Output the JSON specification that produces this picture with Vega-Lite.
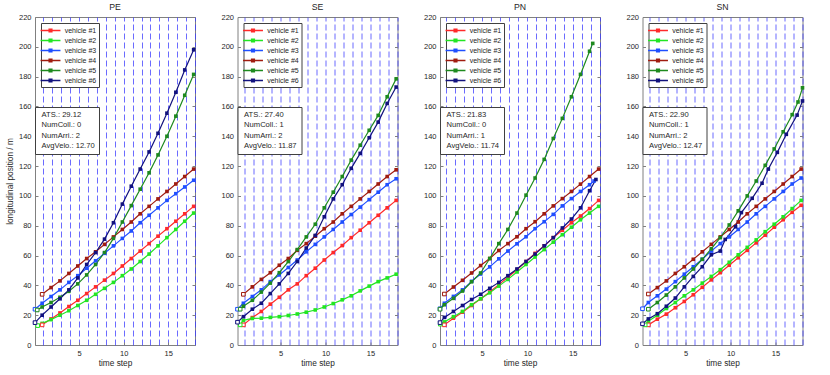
{
  "$schema": "https://vega.github.io/schema/vega-lite/v6.json",
  "padding": {"left": 4, "top": 2, "right": 5, "bottom": 4},
  "background": "white",
  "config": {
    "font": "Liberation Sans",
    "view": {"stroke": "#808080", "strokeWidth": 1},
    "axis": {"labelFont": "Liberation Sans", "labelFontSize": 7.5, "labelColor": "#262626", "titleFont": "Liberation Sans", "titleFontSize": 8.3, "titleFontWeight": "normal", "titleColor": "#262626", "tickColor": "#808080", "domain": false, "grid": false},
    "title": {"font": "Liberation Sans", "fontSize": 8.7, "fontWeight": "normal", "color": "#262626", "offset": 1},
    "legend": {"labelFont": "Liberation Sans", "titleFont": "Liberation Sans"}
  },
  "datasets": {
    "stats": [
      {"p":"PE","s":"ATS.: 29.12"},{"p":"PE","s":"NumColl.: 0"},{"p":"PE","s":"NumArri.: 2"},{"p":"PE","s":"AvgVelo.: 12.70"},
      {"p":"SE","s":"ATS.: 27.40"},{"p":"SE","s":"NumColl.: 1"},{"p":"SE","s":"NumArri.: 2"},{"p":"SE","s":"AvgVelo.: 11.87"},
      {"p":"PN","s":"ATS.: 21.83"},{"p":"PN","s":"NumColl.: 0"},{"p":"PN","s":"NumArri.: 1"},{"p":"PN","s":"AvgVelo.: 11.74"},
      {"p":"SN","s":"ATS.: 22.90"},{"p":"SN","s":"NumColl.: 1"},{"p":"SN","s":"NumArri.: 2"},{"p":"SN","s":"AvgVelo.: 12.47"}
    ],
    "veh": [
      {"p":"PE","v":1,"t":0.85,"y":13.5},{"p":"PE","v":1,"t":1.85,"y":17.5},{"p":"PE","v":1,"t":2.85,"y":21.5},{"p":"PE","v":1,"t":3.85,"y":25.8},{"p":"PE","v":1,"t":4.85,"y":30},{"p":"PE","v":1,"t":5.85,"y":34.5},{"p":"PE","v":1,"t":6.85,"y":39},{"p":"PE","v":1,"t":7.85,"y":43.5},{"p":"PE","v":1,"t":8.85,"y":48},{"p":"PE","v":1,"t":9.85,"y":53},{"p":"PE","v":1,"t":10.85,"y":58},{"p":"PE","v":1,"t":11.85,"y":63},{"p":"PE","v":1,"t":12.85,"y":68},{"p":"PE","v":1,"t":13.85,"y":73},{"p":"PE","v":1,"t":14.85,"y":78},{"p":"PE","v":1,"t":15.85,"y":83},{"p":"PE","v":1,"t":16.85,"y":88},{"p":"PE","v":1,"t":17.85,"y":93},
      {"p":"PE","v":2,"t":0.35,"y":13},{"p":"PE","v":2,"t":0.85,"y":14.5},{"p":"PE","v":2,"t":1.85,"y":17},{"p":"PE","v":2,"t":2.85,"y":20},{"p":"PE","v":2,"t":3.85,"y":23},{"p":"PE","v":2,"t":4.85,"y":26.5},{"p":"PE","v":2,"t":5.85,"y":30},{"p":"PE","v":2,"t":6.85,"y":34},{"p":"PE","v":2,"t":7.85,"y":38},{"p":"PE","v":2,"t":8.85,"y":42},{"p":"PE","v":2,"t":9.85,"y":46.5},{"p":"PE","v":2,"t":10.85,"y":51},{"p":"PE","v":2,"t":11.85,"y":56},{"p":"PE","v":2,"t":12.85,"y":61},{"p":"PE","v":2,"t":13.85,"y":66.5},{"p":"PE","v":2,"t":14.85,"y":72},{"p":"PE","v":2,"t":15.85,"y":77.5},{"p":"PE","v":2,"t":16.85,"y":83},{"p":"PE","v":2,"t":17.85,"y":88.5},
      {"p":"PE","v":3,"t":0.05,"y":24},{"p":"PE","v":3,"t":0.85,"y":28},{"p":"PE","v":3,"t":1.85,"y":32.5},{"p":"PE","v":3,"t":2.85,"y":37},{"p":"PE","v":3,"t":3.85,"y":42},{"p":"PE","v":3,"t":4.85,"y":46.5},{"p":"PE","v":3,"t":5.85,"y":51.5},{"p":"PE","v":3,"t":6.85,"y":56.5},{"p":"PE","v":3,"t":7.85,"y":61.5},{"p":"PE","v":3,"t":8.85,"y":66.5},{"p":"PE","v":3,"t":9.85,"y":71.5},{"p":"PE","v":3,"t":10.85,"y":76.5},{"p":"PE","v":3,"t":11.85,"y":82},{"p":"PE","v":3,"t":12.85,"y":87},{"p":"PE","v":3,"t":13.85,"y":92},{"p":"PE","v":3,"t":14.85,"y":97},{"p":"PE","v":3,"t":15.85,"y":101.5},{"p":"PE","v":3,"t":16.85,"y":106},{"p":"PE","v":3,"t":17.85,"y":110.5},
      {"p":"PE","v":4,"t":0.85,"y":34},{"p":"PE","v":4,"t":1.85,"y":38.5},{"p":"PE","v":4,"t":2.85,"y":43},{"p":"PE","v":4,"t":3.85,"y":48},{"p":"PE","v":4,"t":4.85,"y":53},{"p":"PE","v":4,"t":5.85,"y":58},{"p":"PE","v":4,"t":6.85,"y":62.5},{"p":"PE","v":4,"t":7.85,"y":67.5},{"p":"PE","v":4,"t":8.85,"y":72.5},{"p":"PE","v":4,"t":9.85,"y":77.5},{"p":"PE","v":4,"t":10.85,"y":82.5},{"p":"PE","v":4,"t":11.85,"y":88},{"p":"PE","v":4,"t":12.85,"y":93},{"p":"PE","v":4,"t":13.85,"y":98},{"p":"PE","v":4,"t":14.85,"y":103},{"p":"PE","v":4,"t":15.85,"y":108},{"p":"PE","v":4,"t":16.85,"y":113},{"p":"PE","v":4,"t":17.85,"y":118},
      {"p":"PE","v":5,"t":0.3,"y":23.5},{"p":"PE","v":5,"t":0.85,"y":25.5},{"p":"PE","v":5,"t":1.85,"y":28.5},{"p":"PE","v":5,"t":2.85,"y":32},{"p":"PE","v":5,"t":3.85,"y":36},{"p":"PE","v":5,"t":4.85,"y":41},{"p":"PE","v":5,"t":5.85,"y":47},{"p":"PE","v":5,"t":6.85,"y":54},{"p":"PE","v":5,"t":7.85,"y":62},{"p":"PE","v":5,"t":8.85,"y":71.5},{"p":"PE","v":5,"t":9.85,"y":82.5},{"p":"PE","v":5,"t":10.85,"y":93.5},{"p":"PE","v":5,"t":11.85,"y":104.5},{"p":"PE","v":5,"t":12.85,"y":115.5},{"p":"PE","v":5,"t":13.85,"y":127.5},{"p":"PE","v":5,"t":14.85,"y":140},{"p":"PE","v":5,"t":15.85,"y":153.5},{"p":"PE","v":5,"t":16.85,"y":167.5},{"p":"PE","v":5,"t":17.85,"y":181.5},
      {"p":"PE","v":6,"t":0.05,"y":15},{"p":"PE","v":6,"t":0.85,"y":20},{"p":"PE","v":6,"t":1.85,"y":25.5},{"p":"PE","v":6,"t":2.85,"y":31},{"p":"PE","v":6,"t":3.85,"y":37},{"p":"PE","v":6,"t":4.85,"y":45},{"p":"PE","v":6,"t":5.85,"y":54},{"p":"PE","v":6,"t":6.85,"y":62},{"p":"PE","v":6,"t":7.85,"y":71},{"p":"PE","v":6,"t":8.85,"y":82},{"p":"PE","v":6,"t":9.85,"y":94.5},{"p":"PE","v":6,"t":10.85,"y":106.5},{"p":"PE","v":6,"t":11.85,"y":118},{"p":"PE","v":6,"t":12.85,"y":129.5},{"p":"PE","v":6,"t":13.85,"y":142},{"p":"PE","v":6,"t":14.85,"y":155.5},{"p":"PE","v":6,"t":15.85,"y":169.5},{"p":"PE","v":6,"t":16.85,"y":184.5},{"p":"PE","v":6,"t":17.85,"y":198},

      {"p":"SE","v":1,"t":0.85,"y":13.5},{"p":"SE","v":1,"t":1.85,"y":18.4},{"p":"SE","v":1,"t":2.85,"y":22.5},{"p":"SE","v":1,"t":3.85,"y":27.4},{"p":"SE","v":1,"t":4.85,"y":32},{"p":"SE","v":1,"t":5.85,"y":37},{"p":"SE","v":1,"t":6.85,"y":41},{"p":"SE","v":1,"t":7.85,"y":46.5},{"p":"SE","v":1,"t":8.85,"y":51.5},{"p":"SE","v":1,"t":9.85,"y":57},{"p":"SE","v":1,"t":10.85,"y":62},{"p":"SE","v":1,"t":11.85,"y":66.7},{"p":"SE","v":1,"t":12.85,"y":72},{"p":"SE","v":1,"t":13.85,"y":77},{"p":"SE","v":1,"t":14.85,"y":82},{"p":"SE","v":1,"t":15.85,"y":87},{"p":"SE","v":1,"t":16.85,"y":92},{"p":"SE","v":1,"t":17.85,"y":97},
      {"p":"SE","v":2,"t":0.5,"y":13.5},{"p":"SE","v":2,"t":0.85,"y":16.5},{"p":"SE","v":2,"t":1.85,"y":17.8},{"p":"SE","v":2,"t":2.85,"y":18},{"p":"SE","v":2,"t":3.85,"y":18.5},{"p":"SE","v":2,"t":4.85,"y":19},{"p":"SE","v":2,"t":5.85,"y":19.8},{"p":"SE","v":2,"t":6.85,"y":20.8},{"p":"SE","v":2,"t":7.85,"y":22},{"p":"SE","v":2,"t":8.85,"y":23.5},{"p":"SE","v":2,"t":9.85,"y":25.5},{"p":"SE","v":2,"t":10.85,"y":27.8},{"p":"SE","v":2,"t":11.85,"y":30.3},{"p":"SE","v":2,"t":12.85,"y":33},{"p":"SE","v":2,"t":13.85,"y":36.3},{"p":"SE","v":2,"t":14.85,"y":39.5},{"p":"SE","v":2,"t":15.85,"y":42.5},{"p":"SE","v":2,"t":16.85,"y":45},{"p":"SE","v":2,"t":17.85,"y":47.5},
      {"p":"SE","v":3,"t":0.2,"y":24},{"p":"SE","v":3,"t":0.85,"y":28},{"p":"SE","v":3,"t":1.85,"y":32.5},{"p":"SE","v":3,"t":2.85,"y":37},{"p":"SE","v":3,"t":3.85,"y":42.5},{"p":"SE","v":3,"t":4.85,"y":47},{"p":"SE","v":3,"t":5.85,"y":52},{"p":"SE","v":3,"t":6.85,"y":57},{"p":"SE","v":3,"t":7.85,"y":62.5},{"p":"SE","v":3,"t":8.85,"y":67.5},{"p":"SE","v":3,"t":9.85,"y":72.5},{"p":"SE","v":3,"t":10.85,"y":77.5},{"p":"SE","v":3,"t":11.85,"y":82.5},{"p":"SE","v":3,"t":12.85,"y":87.5},{"p":"SE","v":3,"t":13.85,"y":92.5},{"p":"SE","v":3,"t":14.85,"y":97.5},{"p":"SE","v":3,"t":15.85,"y":102.5},{"p":"SE","v":3,"t":16.85,"y":107.5},{"p":"SE","v":3,"t":17.85,"y":111.5},
      {"p":"SE","v":4,"t":0.85,"y":34},{"p":"SE","v":4,"t":1.85,"y":39},{"p":"SE","v":4,"t":2.85,"y":44},{"p":"SE","v":4,"t":3.85,"y":48.5},{"p":"SE","v":4,"t":4.85,"y":53.5},{"p":"SE","v":4,"t":5.85,"y":58},{"p":"SE","v":4,"t":6.85,"y":63.5},{"p":"SE","v":4,"t":7.85,"y":68},{"p":"SE","v":4,"t":8.85,"y":73},{"p":"SE","v":4,"t":9.85,"y":78},{"p":"SE","v":4,"t":10.85,"y":82.5},{"p":"SE","v":4,"t":11.85,"y":88},{"p":"SE","v":4,"t":12.85,"y":93},{"p":"SE","v":4,"t":13.85,"y":98},{"p":"SE","v":4,"t":14.85,"y":103},{"p":"SE","v":4,"t":15.85,"y":108},{"p":"SE","v":4,"t":16.85,"y":113},{"p":"SE","v":4,"t":17.85,"y":117.5},
      {"p":"SE","v":5,"t":0.5,"y":24},{"p":"SE","v":5,"t":0.85,"y":26},{"p":"SE","v":5,"t":1.85,"y":30},{"p":"SE","v":5,"t":2.85,"y":35.5},{"p":"SE","v":5,"t":3.85,"y":41.5},{"p":"SE","v":5,"t":4.85,"y":48.5},{"p":"SE","v":5,"t":5.85,"y":56},{"p":"SE","v":5,"t":6.85,"y":64},{"p":"SE","v":5,"t":7.85,"y":72.5},{"p":"SE","v":5,"t":8.85,"y":81},{"p":"SE","v":5,"t":9.85,"y":92},{"p":"SE","v":5,"t":10.85,"y":102.5},{"p":"SE","v":5,"t":11.85,"y":113},{"p":"SE","v":5,"t":12.85,"y":124},{"p":"SE","v":5,"t":13.85,"y":134},{"p":"SE","v":5,"t":14.85,"y":144},{"p":"SE","v":5,"t":15.85,"y":154},{"p":"SE","v":5,"t":16.85,"y":166.5},{"p":"SE","v":5,"t":17.85,"y":178.5},
      {"p":"SE","v":6,"t":0.2,"y":15.3},{"p":"SE","v":6,"t":0.85,"y":19},{"p":"SE","v":6,"t":1.85,"y":24},{"p":"SE","v":6,"t":2.85,"y":28},{"p":"SE","v":6,"t":3.85,"y":34.5},{"p":"SE","v":6,"t":4.85,"y":41},{"p":"SE","v":6,"t":5.85,"y":48},{"p":"SE","v":6,"t":6.85,"y":56},{"p":"SE","v":6,"t":7.85,"y":65},{"p":"SE","v":6,"t":8.85,"y":73.5},{"p":"SE","v":6,"t":9.85,"y":86},{"p":"SE","v":6,"t":10.85,"y":98},{"p":"SE","v":6,"t":11.85,"y":107.5},{"p":"SE","v":6,"t":12.85,"y":118.5},{"p":"SE","v":6,"t":13.85,"y":128.5},{"p":"SE","v":6,"t":14.85,"y":139},{"p":"SE","v":6,"t":15.85,"y":149.5},{"p":"SE","v":6,"t":16.85,"y":162},{"p":"SE","v":6,"t":17.85,"y":173},

      {"p":"PN","v":1,"t":0.85,"y":13.5},{"p":"PN","v":1,"t":1.85,"y":18},{"p":"PN","v":1,"t":2.85,"y":22},{"p":"PN","v":1,"t":3.85,"y":26.5},{"p":"PN","v":1,"t":4.85,"y":31},{"p":"PN","v":1,"t":5.85,"y":35.5},{"p":"PN","v":1,"t":6.85,"y":40.5},{"p":"PN","v":1,"t":7.85,"y":45.5},{"p":"PN","v":1,"t":8.85,"y":50.5},{"p":"PN","v":1,"t":9.85,"y":56},{"p":"PN","v":1,"t":10.85,"y":61.5},{"p":"PN","v":1,"t":11.85,"y":66.5},{"p":"PN","v":1,"t":12.85,"y":72},{"p":"PN","v":1,"t":13.85,"y":77},{"p":"PN","v":1,"t":14.85,"y":82},{"p":"PN","v":1,"t":15.85,"y":86.5},{"p":"PN","v":1,"t":16.85,"y":91.5},{"p":"PN","v":1,"t":17.85,"y":97},
      {"p":"PN","v":2,"t":0.4,"y":14},{"p":"PN","v":2,"t":0.85,"y":15.5},{"p":"PN","v":2,"t":1.85,"y":19},{"p":"PN","v":2,"t":2.85,"y":22.5},{"p":"PN","v":2,"t":3.85,"y":27},{"p":"PN","v":2,"t":4.85,"y":31},{"p":"PN","v":2,"t":5.85,"y":35},{"p":"PN","v":2,"t":6.85,"y":39.5},{"p":"PN","v":2,"t":7.85,"y":44},{"p":"PN","v":2,"t":8.85,"y":49},{"p":"PN","v":2,"t":9.85,"y":54},{"p":"PN","v":2,"t":10.85,"y":59},{"p":"PN","v":2,"t":11.85,"y":64},{"p":"PN","v":2,"t":12.85,"y":69},{"p":"PN","v":2,"t":13.85,"y":74},{"p":"PN","v":2,"t":14.85,"y":79},{"p":"PN","v":2,"t":15.85,"y":84},{"p":"PN","v":2,"t":16.85,"y":88.5},{"p":"PN","v":2,"t":17.85,"y":93},
      {"p":"PN","v":3,"t":0.37,"y":24.3},{"p":"PN","v":3,"t":0.85,"y":28},{"p":"PN","v":3,"t":1.85,"y":32.6},{"p":"PN","v":3,"t":2.85,"y":37},{"p":"PN","v":3,"t":3.85,"y":42.7},{"p":"PN","v":3,"t":4.85,"y":47.6},{"p":"PN","v":3,"t":5.85,"y":52.4},{"p":"PN","v":3,"t":6.85,"y":57.8},{"p":"PN","v":3,"t":7.85,"y":63},{"p":"PN","v":3,"t":8.85,"y":67.9},{"p":"PN","v":3,"t":9.85,"y":72.6},{"p":"PN","v":3,"t":10.85,"y":78},{"p":"PN","v":3,"t":11.85,"y":82.7},{"p":"PN","v":3,"t":12.85,"y":87.6},{"p":"PN","v":3,"t":13.85,"y":93.3},{"p":"PN","v":3,"t":14.85,"y":98.2},{"p":"PN","v":3,"t":15.85,"y":103},{"p":"PN","v":3,"t":16.85,"y":107.5},{"p":"PN","v":3,"t":17.35,"y":110},
      {"p":"PN","v":4,"t":0.85,"y":34.2},{"p":"PN","v":4,"t":1.85,"y":38.9},{"p":"PN","v":4,"t":2.85,"y":43.4},{"p":"PN","v":4,"t":3.85,"y":48.3},{"p":"PN","v":4,"t":4.85,"y":53.3},{"p":"PN","v":4,"t":5.85,"y":58},{"p":"PN","v":4,"t":6.85,"y":63.4},{"p":"PN","v":4,"t":7.85,"y":68},{"p":"PN","v":4,"t":8.85,"y":72.6},{"p":"PN","v":4,"t":9.85,"y":78},{"p":"PN","v":4,"t":10.85,"y":82.7},{"p":"PN","v":4,"t":11.85,"y":88},{"p":"PN","v":4,"t":12.85,"y":93.3},{"p":"PN","v":4,"t":13.85,"y":98.2},{"p":"PN","v":4,"t":14.85,"y":103},{"p":"PN","v":4,"t":15.85,"y":107.9},{"p":"PN","v":4,"t":16.85,"y":113},{"p":"PN","v":4,"t":17.85,"y":118},
      {"p":"PN","v":5,"t":0.37,"y":24},{"p":"PN","v":5,"t":0.85,"y":27},{"p":"PN","v":5,"t":1.85,"y":31.3},{"p":"PN","v":5,"t":2.85,"y":36.2},{"p":"PN","v":5,"t":3.85,"y":42.4},{"p":"PN","v":5,"t":4.85,"y":48.3},{"p":"PN","v":5,"t":5.85,"y":58},{"p":"PN","v":5,"t":6.85,"y":68},{"p":"PN","v":5,"t":7.85,"y":77.5},{"p":"PN","v":5,"t":8.85,"y":88.5},{"p":"PN","v":5,"t":9.85,"y":100.5},{"p":"PN","v":5,"t":10.85,"y":112},{"p":"PN","v":5,"t":11.85,"y":124.5},{"p":"PN","v":5,"t":12.85,"y":138.5},{"p":"PN","v":5,"t":13.85,"y":152},{"p":"PN","v":5,"t":14.85,"y":166.5},{"p":"PN","v":5,"t":15.85,"y":181.5},{"p":"PN","v":5,"t":16.85,"y":197},{"p":"PN","v":5,"t":17.2,"y":202.3},
      {"p":"PN","v":6,"t":0.37,"y":15},{"p":"PN","v":6,"t":0.85,"y":18.5},{"p":"PN","v":6,"t":1.85,"y":22.5},{"p":"PN","v":6,"t":2.85,"y":26.5},{"p":"PN","v":6,"t":3.85,"y":30.5},{"p":"PN","v":6,"t":4.85,"y":34},{"p":"PN","v":6,"t":5.85,"y":38},{"p":"PN","v":6,"t":6.85,"y":42},{"p":"PN","v":6,"t":7.85,"y":46.5},{"p":"PN","v":6,"t":8.85,"y":51},{"p":"PN","v":6,"t":9.85,"y":56},{"p":"PN","v":6,"t":10.85,"y":61},{"p":"PN","v":6,"t":11.85,"y":66.5},{"p":"PN","v":6,"t":12.85,"y":72},{"p":"PN","v":6,"t":13.85,"y":78.5},{"p":"PN","v":6,"t":14.85,"y":84.5},{"p":"PN","v":6,"t":15.85,"y":92},{"p":"PN","v":6,"t":16.85,"y":103.5},{"p":"PN","v":6,"t":17.55,"y":111},

      {"p":"SN","v":1,"t":0.85,"y":13.5},{"p":"SN","v":1,"t":1.85,"y":17.3},{"p":"SN","v":1,"t":2.85,"y":20.7},{"p":"SN","v":1,"t":3.85,"y":25},{"p":"SN","v":1,"t":4.85,"y":29.2},{"p":"SN","v":1,"t":5.85,"y":33.7},{"p":"SN","v":1,"t":6.85,"y":38.7},{"p":"SN","v":1,"t":7.85,"y":43.7},{"p":"SN","v":1,"t":8.85,"y":48.5},{"p":"SN","v":1,"t":9.85,"y":53.5},{"p":"SN","v":1,"t":10.85,"y":58.5},{"p":"SN","v":1,"t":11.85,"y":63.5},{"p":"SN","v":1,"t":12.85,"y":68.5},{"p":"SN","v":1,"t":13.85,"y":73.7},{"p":"SN","v":1,"t":14.85,"y":79},{"p":"SN","v":1,"t":15.85,"y":84},{"p":"SN","v":1,"t":16.85,"y":89},{"p":"SN","v":1,"t":17.85,"y":93.7},
      {"p":"SN","v":2,"t":0.5,"y":13.5},{"p":"SN","v":2,"t":0.85,"y":16},{"p":"SN","v":2,"t":1.85,"y":20},{"p":"SN","v":2,"t":2.85,"y":24.5},{"p":"SN","v":2,"t":3.85,"y":28.5},{"p":"SN","v":2,"t":4.85,"y":33},{"p":"SN","v":2,"t":5.85,"y":37},{"p":"SN","v":2,"t":6.85,"y":41.5},{"p":"SN","v":2,"t":7.85,"y":46},{"p":"SN","v":2,"t":8.85,"y":50.5},{"p":"SN","v":2,"t":9.85,"y":55.5},{"p":"SN","v":2,"t":10.85,"y":60.5},{"p":"SN","v":2,"t":11.85,"y":65.5},{"p":"SN","v":2,"t":12.85,"y":70.5},{"p":"SN","v":2,"t":13.85,"y":76},{"p":"SN","v":2,"t":14.85,"y":81},{"p":"SN","v":2,"t":15.85,"y":86},{"p":"SN","v":2,"t":16.85,"y":91.5},{"p":"SN","v":2,"t":17.85,"y":97},
      {"p":"SN","v":3,"t":0.2,"y":24.3},{"p":"SN","v":3,"t":0.85,"y":28.5},{"p":"SN","v":3,"t":1.85,"y":33},{"p":"SN","v":3,"t":2.85,"y":37.5},{"p":"SN","v":3,"t":3.85,"y":42.5},{"p":"SN","v":3,"t":4.85,"y":47.5},{"p":"SN","v":3,"t":5.85,"y":52.5},{"p":"SN","v":3,"t":6.85,"y":57.5},{"p":"SN","v":3,"t":7.85,"y":63},{"p":"SN","v":3,"t":8.85,"y":68},{"p":"SN","v":3,"t":9.85,"y":72.5},{"p":"SN","v":3,"t":10.85,"y":77.5},{"p":"SN","v":3,"t":11.85,"y":82.5},{"p":"SN","v":3,"t":12.85,"y":88},{"p":"SN","v":3,"t":13.85,"y":93},{"p":"SN","v":3,"t":14.85,"y":98},{"p":"SN","v":3,"t":15.85,"y":103},{"p":"SN","v":3,"t":16.85,"y":108},{"p":"SN","v":3,"t":17.85,"y":112},
      {"p":"SN","v":4,"t":0.85,"y":34.2},{"p":"SN","v":4,"t":1.85,"y":38.5},{"p":"SN","v":4,"t":2.85,"y":43},{"p":"SN","v":4,"t":3.85,"y":48},{"p":"SN","v":4,"t":4.85,"y":52.5},{"p":"SN","v":4,"t":5.85,"y":57.5},{"p":"SN","v":4,"t":6.85,"y":62.5},{"p":"SN","v":4,"t":7.85,"y":67.5},{"p":"SN","v":4,"t":8.85,"y":72.5},{"p":"SN","v":4,"t":9.85,"y":77.5},{"p":"SN","v":4,"t":10.85,"y":82.5},{"p":"SN","v":4,"t":11.85,"y":88},{"p":"SN","v":4,"t":12.85,"y":93},{"p":"SN","v":4,"t":13.85,"y":98},{"p":"SN","v":4,"t":14.85,"y":103},{"p":"SN","v":4,"t":15.85,"y":108},{"p":"SN","v":4,"t":16.85,"y":113},{"p":"SN","v":4,"t":17.85,"y":118},
      {"p":"SN","v":5,"t":0.85,"y":24},{"p":"SN","v":5,"t":1.85,"y":28.5},{"p":"SN","v":5,"t":2.85,"y":33.5},{"p":"SN","v":5,"t":3.85,"y":39},{"p":"SN","v":5,"t":4.85,"y":45},{"p":"SN","v":5,"t":5.85,"y":51},{"p":"SN","v":5,"t":6.85,"y":57.5},{"p":"SN","v":5,"t":7.85,"y":64.5},{"p":"SN","v":5,"t":8.85,"y":72},{"p":"SN","v":5,"t":9.85,"y":80.5},{"p":"SN","v":5,"t":10.85,"y":90},{"p":"SN","v":5,"t":11.85,"y":100},{"p":"SN","v":5,"t":12.85,"y":110},{"p":"SN","v":5,"t":13.85,"y":120.5},{"p":"SN","v":5,"t":14.85,"y":131.5},{"p":"SN","v":5,"t":15.85,"y":143},{"p":"SN","v":5,"t":16.85,"y":154.5},{"p":"SN","v":5,"t":17.5,"y":163},{"p":"SN","v":5,"t":18,"y":172.5},
      {"p":"SN","v":6,"t":0.2,"y":14.2},{"p":"SN","v":6,"t":0.85,"y":17.5},{"p":"SN","v":6,"t":1.85,"y":21},{"p":"SN","v":6,"t":2.85,"y":26},{"p":"SN","v":6,"t":3.85,"y":31.5},{"p":"SN","v":6,"t":4.85,"y":39},{"p":"SN","v":6,"t":5.85,"y":46},{"p":"SN","v":6,"t":6.85,"y":52.5},{"p":"SN","v":6,"t":7.85,"y":60.5},{"p":"SN","v":6,"t":8.85,"y":63},{"p":"SN","v":6,"t":9.4,"y":70.8},{"p":"SN","v":6,"t":10.55,"y":79.3},{"p":"SN","v":6,"t":11.2,"y":88.8},{"p":"SN","v":6,"t":12.4,"y":98.4},{"p":"SN","v":6,"t":13.5,"y":108.5},{"p":"SN","v":6,"t":14.2,"y":118},{"p":"SN","v":6,"t":15.2,"y":129.2},{"p":"SN","v":6,"t":16.2,"y":141.3},{"p":"SN","v":6,"t":17.4,"y":154.2},{"p":"SN","v":6,"t":18,"y":163.7}
    ]
  },
  "spacing": 42.5,
  "bounds": "flush",
  "resolve": {
    "scale": {"x": "independent", "y": "independent", "color": "shared", "shape": "independent"},
    "legend": {"color": "independent", "shape": "independent"}
  },
  "hconcat": [
    {
      "title": "PE", "width": 160, "height": 328,
      "layer": [
        {"data": {"name": "veh"}, "transform": [{"filter": "datum.p==='PE'"}],
         "mark": {"type": "line", "strokeWidth": 1.2},
         "encoding": {
           "x": {"field": "t", "type": "quantitative", "scale": {"domain": [0.05, 18], "nice": false, "zero": false}, "axis": {"orient": "bottom", "values": [5,10,15], "title": "time step", "tickSize": -3, "labelPadding": 7.5, "titlePadding": 1.5}},
           "y": {"field": "y", "type": "quantitative", "scale": {"domain": [0, 220], "nice": false, "zero": false}, "axis": {"orient": "left", "values": [0,20,40,60,80,100,120,140,160,180,200,220], "title": "longitudinal position / m", "tickSize": -3, "labelPadding": 7, "titlePadding": 4}},
           "color": {"field": "v", "type": "nominal", "scale": {"domain": [1,2,3,4,5,6], "range": ["#ff2a2a","#22e622","#1f4fff","#a01c10","#1e8a1e","#12127e"]},
             "legend": {"title": null, "orient": "top-left", "offset": 6, "padding": 2, "strokeColor": "#404040", "fillColor": "white", "symbolType": "M-2.1,0H2.1M-0.3,-0.3H0.3V0.3H-0.3Z", "symbolSize": 90, "symbolStrokeWidth": 1.3, "symbolOffset": 2, "labelOffset": 8.7, "labelFontSize": 7, "labelColor": "#262626", "rowPadding": 0, "labelExpr": "'vehicle #' + datum.label"}}
         }},
        {"data": {"name": "veh"}, "transform": [{"filter": "datum.p==='PE'"}],
         "mark": {"type": "point", "shape": "square", "filled": true, "size": 13, "opacity": 1},
         "encoding": {
           "x": {"field": "t", "type": "quantitative", "axis": {"orient": "top", "values": [1,2,3,4,5,6,7,8,9,10,11,12,13,14,15,16,17,18], "grid": true, "gridColor": "#3a3aff", "gridDash": [6,3], "gridOpacity": 0.75, "gridWidth": 1, "labels": false, "ticks": false, "domain": false, "title": null}},
           "y": {"field": "y", "type": "quantitative", "axis": {"orient": "right", "values": [0,20,40,60,80,100,120,140,160,180,200,220], "labels": false, "tickSize": -3, "title": null}},
           "color": {"field": "v", "type": "nominal", "legend": null}
         }},
        {"data": {"name": "veh"}, "transform": [{"filter": "datum.p==='PE'"}, {"window": [{"op": "row_number", "as": "rk"}], "groupby": ["v"], "sort": [{"field": "t", "order": "ascending"}]}, {"filter": "datum.rk===1"}],
         "mark": {"type": "point", "shape": "square", "filled": false, "fill": "white", "size": 13, "strokeWidth": 1, "opacity": 1},
         "encoding": {
           "x": {"field": "t", "type": "quantitative", "axis": null},
           "y": {"field": "y", "type": "quantitative", "axis": null},
           "color": {"field": "v", "type": "nominal", "legend": null}
         }},
        {"data": {"name": "stats"}, "transform": [{"filter": "datum.p==='PE'"}],
         "mark": {"type": "point", "opacity": 0},
         "encoding": {"shape": {"field": "s", "type": "nominal", "sort": null, "legend": {"title": null, "orient": "none", "legendX": 0, "legendY": 90, "padding": 4, "strokeColor": "#404040", "fillColor": "white", "symbolSize": 1, "symbolOpacity": 0, "labelOffset": -5, "labelFontSize": 7.6, "labelColor": "#262626", "rowPadding": 1.5}}}}
      ],
      "resolve": {"axis": {"x": "independent", "y": "independent"}}
    },
    {
      "title": "SE", "width": 160, "height": 328,
      "layer": [
        {"data": {"name": "veh"}, "transform": [{"filter": "datum.p==='SE'"}],
         "mark": {"type": "line", "strokeWidth": 1.2},
         "encoding": {
           "x": {"field": "t", "type": "quantitative", "scale": {"domain": [0.2, 18], "nice": false, "zero": false}, "axis": {"orient": "bottom", "values": [5,10,15], "title": "time step", "tickSize": -3, "labelPadding": 7.5, "titlePadding": 1.5}},
           "y": {"field": "y", "type": "quantitative", "scale": {"domain": [0, 220], "nice": false, "zero": false}, "axis": {"orient": "left", "values": [0,20,40,60,80,100,120,140,160,180,200,220], "title": null, "tickSize": -3, "labelPadding": 7}},
           "color": {"field": "v", "type": "nominal", "scale": {"domain": [1,2,3,4,5,6], "range": ["#ff2a2a","#22e622","#1f4fff","#a01c10","#1e8a1e","#12127e"]},
             "legend": {"title": null, "orient": "top-left", "offset": 6, "padding": 2, "strokeColor": "#404040", "fillColor": "white", "symbolType": "M-2.1,0H2.1M-0.3,-0.3H0.3V0.3H-0.3Z", "symbolSize": 90, "symbolStrokeWidth": 1.3, "symbolOffset": 2, "labelOffset": 8.7, "labelFontSize": 7, "labelColor": "#262626", "rowPadding": 0, "labelExpr": "'vehicle #' + datum.label"}}
         }},
        {"data": {"name": "veh"}, "transform": [{"filter": "datum.p==='SE'"}],
         "mark": {"type": "point", "shape": "square", "filled": true, "size": 13, "opacity": 1},
         "encoding": {
           "x": {"field": "t", "type": "quantitative", "axis": {"orient": "top", "values": [1,2,3,4,5,6,7,8,9,10,11,12,13,14,15,16,17,18], "grid": true, "gridColor": "#3a3aff", "gridDash": [6,3], "gridOpacity": 0.75, "gridWidth": 1, "labels": false, "ticks": false, "domain": false, "title": null}},
           "y": {"field": "y", "type": "quantitative", "axis": {"orient": "right", "values": [0,20,40,60,80,100,120,140,160,180,200,220], "labels": false, "tickSize": -3, "title": null}},
           "color": {"field": "v", "type": "nominal", "legend": null}
         }},
        {"data": {"name": "veh"}, "transform": [{"filter": "datum.p==='SE'"}, {"window": [{"op": "row_number", "as": "rk"}], "groupby": ["v"], "sort": [{"field": "t", "order": "ascending"}]}, {"filter": "datum.rk===1"}],
         "mark": {"type": "point", "shape": "square", "filled": false, "fill": "white", "size": 13, "strokeWidth": 1, "opacity": 1},
         "encoding": {
           "x": {"field": "t", "type": "quantitative", "axis": null},
           "y": {"field": "y", "type": "quantitative", "axis": null},
           "color": {"field": "v", "type": "nominal", "legend": null}
         }},
        {"data": {"name": "stats"}, "transform": [{"filter": "datum.p==='SE'"}],
         "mark": {"type": "point", "opacity": 0},
         "encoding": {"shape": {"field": "s", "type": "nominal", "sort": null, "legend": {"title": null, "orient": "none", "legendX": 0, "legendY": 90, "padding": 4, "strokeColor": "#404040", "fillColor": "white", "symbolSize": 1, "symbolOpacity": 0, "labelOffset": -5, "labelFontSize": 7.6, "labelColor": "#262626", "rowPadding": 1.5}}}}
      ],
      "resolve": {"axis": {"x": "independent", "y": "independent"}}
    },
    {
      "title": "PN", "width": 160, "height": 328,
      "layer": [
        {"data": {"name": "veh"}, "transform": [{"filter": "datum.p==='PN'"}],
         "mark": {"type": "line", "strokeWidth": 1.2},
         "encoding": {
           "x": {"field": "t", "type": "quantitative", "scale": {"domain": [0.37, 18], "nice": false, "zero": false}, "axis": {"orient": "bottom", "values": [5,10,15], "title": "time step", "tickSize": -3, "labelPadding": 7.5, "titlePadding": 1.5}},
           "y": {"field": "y", "type": "quantitative", "scale": {"domain": [0, 220], "nice": false, "zero": false}, "axis": {"orient": "left", "values": [0,20,40,60,80,100,120,140,160,180,200,220], "title": null, "tickSize": -3, "labelPadding": 7}},
           "color": {"field": "v", "type": "nominal", "scale": {"domain": [1,2,3,4,5,6], "range": ["#ff2a2a","#22e622","#1f4fff","#a01c10","#1e8a1e","#12127e"]},
             "legend": {"title": null, "orient": "top-left", "offset": 6, "padding": 2, "strokeColor": "#404040", "fillColor": "white", "symbolType": "M-2.1,0H2.1M-0.3,-0.3H0.3V0.3H-0.3Z", "symbolSize": 90, "symbolStrokeWidth": 1.3, "symbolOffset": 2, "labelOffset": 8.7, "labelFontSize": 7, "labelColor": "#262626", "rowPadding": 0, "labelExpr": "'vehicle #' + datum.label"}}
         }},
        {"data": {"name": "veh"}, "transform": [{"filter": "datum.p==='PN'"}],
         "mark": {"type": "point", "shape": "square", "filled": true, "size": 13, "opacity": 1},
         "encoding": {
           "x": {"field": "t", "type": "quantitative", "axis": {"orient": "top", "values": [1,2,3,4,5,6,7,8,9,10,11,12,13,14,15,16,17,18], "grid": true, "gridColor": "#3a3aff", "gridDash": [6,3], "gridOpacity": 0.75, "gridWidth": 1, "labels": false, "ticks": false, "domain": false, "title": null}},
           "y": {"field": "y", "type": "quantitative", "axis": {"orient": "right", "values": [0,20,40,60,80,100,120,140,160,180,200,220], "labels": false, "tickSize": -3, "title": null}},
           "color": {"field": "v", "type": "nominal", "legend": null}
         }},
        {"data": {"name": "veh"}, "transform": [{"filter": "datum.p==='PN'"}, {"window": [{"op": "row_number", "as": "rk"}], "groupby": ["v"], "sort": [{"field": "t", "order": "ascending"}]}, {"filter": "datum.rk===1"}],
         "mark": {"type": "point", "shape": "square", "filled": false, "fill": "white", "size": 13, "strokeWidth": 1, "opacity": 1},
         "encoding": {
           "x": {"field": "t", "type": "quantitative", "axis": null},
           "y": {"field": "y", "type": "quantitative", "axis": null},
           "color": {"field": "v", "type": "nominal", "legend": null}
         }},
        {"data": {"name": "stats"}, "transform": [{"filter": "datum.p==='PN'"}],
         "mark": {"type": "point", "opacity": 0},
         "encoding": {"shape": {"field": "s", "type": "nominal", "sort": null, "legend": {"title": null, "orient": "none", "legendX": 0, "legendY": 90, "padding": 4, "strokeColor": "#404040", "fillColor": "white", "symbolSize": 1, "symbolOpacity": 0, "labelOffset": -5, "labelFontSize": 7.6, "labelColor": "#262626", "rowPadding": 1.5}}}}
      ],
      "resolve": {"axis": {"x": "independent", "y": "independent"}}
    },
    {
      "title": "SN", "width": 160, "height": 328,
      "layer": [
        {"data": {"name": "veh"}, "transform": [{"filter": "datum.p==='SN'"}],
         "mark": {"type": "line", "strokeWidth": 1.2},
         "encoding": {
           "x": {"field": "t", "type": "quantitative", "scale": {"domain": [0.2, 18], "nice": false, "zero": false}, "axis": {"orient": "bottom", "values": [5,10,15], "title": "time step", "tickSize": -3, "labelPadding": 7.5, "titlePadding": 1.5}},
           "y": {"field": "y", "type": "quantitative", "scale": {"domain": [0, 220], "nice": false, "zero": false}, "axis": {"orient": "left", "values": [0,20,40,60,80,100,120,140,160,180,200,220], "title": null, "tickSize": -3, "labelPadding": 7}},
           "color": {"field": "v", "type": "nominal", "scale": {"domain": [1,2,3,4,5,6], "range": ["#ff2a2a","#22e622","#1f4fff","#a01c10","#1e8a1e","#12127e"]},
             "legend": {"title": null, "orient": "top-left", "offset": 6, "padding": 2, "strokeColor": "#404040", "fillColor": "white", "symbolType": "M-2.1,0H2.1M-0.3,-0.3H0.3V0.3H-0.3Z", "symbolSize": 90, "symbolStrokeWidth": 1.3, "symbolOffset": 2, "labelOffset": 8.7, "labelFontSize": 7, "labelColor": "#262626", "rowPadding": 0, "labelExpr": "'vehicle #' + datum.label"}}
         }},
        {"data": {"name": "veh"}, "transform": [{"filter": "datum.p==='SN'"}],
         "mark": {"type": "point", "shape": "square", "filled": true, "size": 13, "opacity": 1},
         "encoding": {
           "x": {"field": "t", "type": "quantitative", "axis": {"orient": "top", "values": [1,2,3,4,5,6,7,8,9,10,11,12,13,14,15,16,17,18], "grid": true, "gridColor": "#3a3aff", "gridDash": [6,3], "gridOpacity": 0.75, "gridWidth": 1, "labels": false, "ticks": false, "domain": false, "title": null}},
           "y": {"field": "y", "type": "quantitative", "axis": {"orient": "right", "values": [0,20,40,60,80,100,120,140,160,180,200,220], "labels": false, "tickSize": -3, "title": null}},
           "color": {"field": "v", "type": "nominal", "legend": null}
         }},
        {"data": {"name": "veh"}, "transform": [{"filter": "datum.p==='SN'"}, {"window": [{"op": "row_number", "as": "rk"}], "groupby": ["v"], "sort": [{"field": "t", "order": "ascending"}]}, {"filter": "datum.rk===1"}],
         "mark": {"type": "point", "shape": "square", "filled": false, "fill": "white", "size": 13, "strokeWidth": 1, "opacity": 1},
         "encoding": {
           "x": {"field": "t", "type": "quantitative", "axis": null},
           "y": {"field": "y", "type": "quantitative", "axis": null},
           "color": {"field": "v", "type": "nominal", "legend": null}
         }},
        {"data": {"name": "stats"}, "transform": [{"filter": "datum.p==='SN'"}],
         "mark": {"type": "point", "opacity": 0},
         "encoding": {"shape": {"field": "s", "type": "nominal", "sort": null, "legend": {"title": null, "orient": "none", "legendX": 0, "legendY": 90, "padding": 4, "strokeColor": "#404040", "fillColor": "white", "symbolSize": 1, "symbolOpacity": 0, "labelOffset": -5, "labelFontSize": 7.6, "labelColor": "#262626", "rowPadding": 1.5}}}}
      ],
      "resolve": {"axis": {"x": "independent", "y": "independent"}}
    }
  ]
}
